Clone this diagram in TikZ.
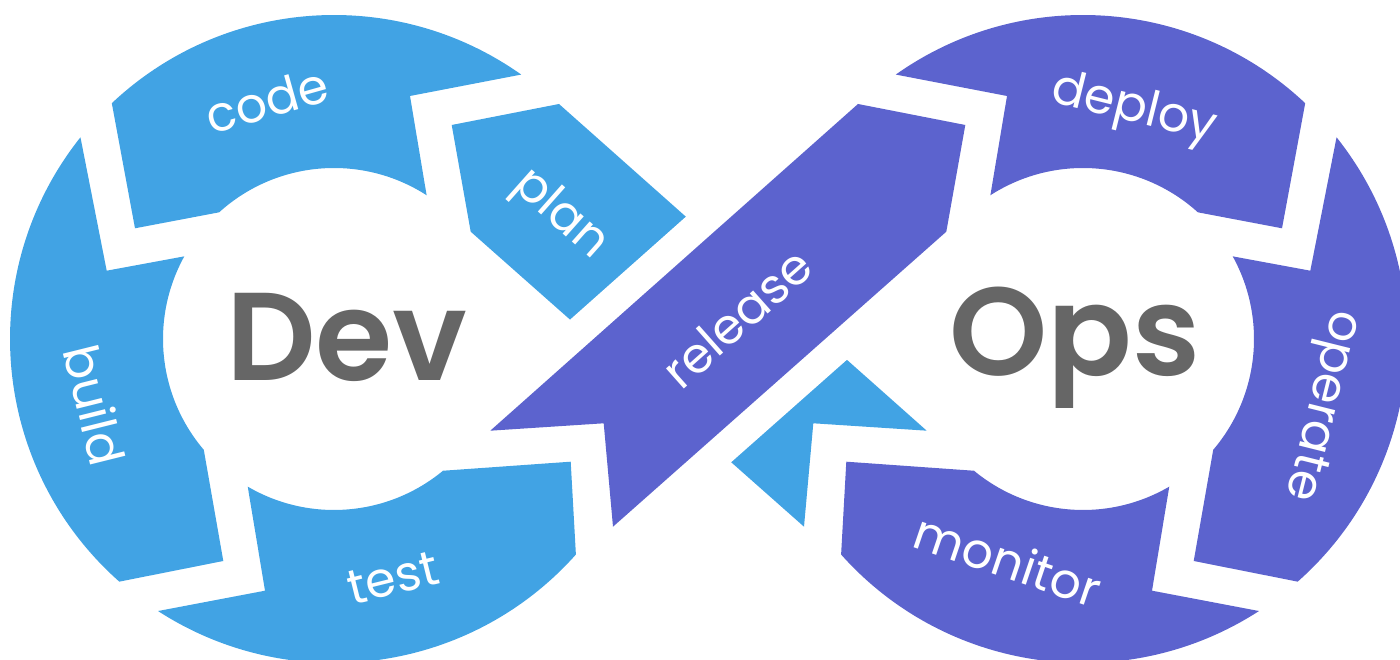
\documentclass[tikz,border=0pt]{standalone}
\usepackage{fontspec}
\setmainfont{Poppins}
\newfontfamily\markfont{Poppins SemiBold}
\usetikzlibrary{positioning}

\definecolor{devblue}{HTML}{41A3E4}
\definecolor{opspurple}{HTML}{5C63CE}
\definecolor{bigtext}{HTML}{666666}

% three ring parts of one loop, drawn round its centre
\newcommand{\loopring}[1]{%
	\fill[#1] (54.7:324) arc[start angle=54.7, end angle=133.3, radius=324] -- (-199,110.7) -- (132.2:171) arc[start angle=132.2, end angle=57.2, radius=171] -- (76,243) -- cycle;
	\fill[#1] (141.5:324) arc[start angle=141.5, end angle=228.5, radius=324] -- (-110.7,-222) -- (220.4:171) arc[start angle=220.4, end angle=151.1, radius=171] -- (-227.3,68.3) -- cycle;
	\fill[#1] (237.1:324) arc[start angle=237.1, end angle=318.3, radius=324] -- (236.7,-122.7) -- (309.6:171) arc[start angle=309.6, end angle=239.7, radius=171] -- (-69,-251.7) -- cycle;
}

\begin{document}
\begin{tikzpicture}[x=1pt, y=1pt,
	stagelabel/.style={text=white, inner sep=0pt, font=\fontsize{49}{49}\selectfont},
	wordmark/.style={text=bigtext, inner sep=0pt, font=\fontsize{125}{125}\selectfont\markfont}]
	\useasboundingbox (0,0) rectangle (1400,660);

	\begin{scope}[shift={(334,321)}]
		\loopring{devblue}
	\end{scope}
	\begin{scope}[shift={(1083,321)}, xscale=-1]
		\loopring{opspurple}
	\end{scope}

	% plan band runs under release
	\fill[devblue] (451.7,535) -- (559,556) -- (926.7,229.3) -- (813.3,236.7) -- (804,133.3) -- (470.7,428.3) -- cycle;
	\fill[opspurple, preaction={draw=white, line width=60, line join=round}] (965.3,535) -- (858,556) -- (490.3,229.3) -- (603.7,236.7) -- (613,133.3) -- (946.3,428.3) -- cycle;

	\node (dev) [wordmark] at (347,323) {Dev};
	\node (ops) [wordmark] at (1075,312) {Ops};

	\node (code) [stagelabel, rotate=15.7] at (267,560) {code};
	\node (build) [stagelabel, rotate=-76] at (95,255) {build};
	\node (test) [stagelabel, rotate=13.9] at (393,82) {test};
	\node (plan) [stagelabel, rotate=-41.6] at (560,445) {plan};
	\node (release) [stagelabel, rotate=41.6] at (737,342) {release};
	\node (deploy) [stagelabel, rotate=-14] at (1134,550) {deploy};
	\node (operate) [stagelabel, rotate=-104] at (1320,255) {operate};
	\node (monitor) [stagelabel, rotate=-18.7] at (1008,100) {monitor};
\end{tikzpicture}
\end{document}
